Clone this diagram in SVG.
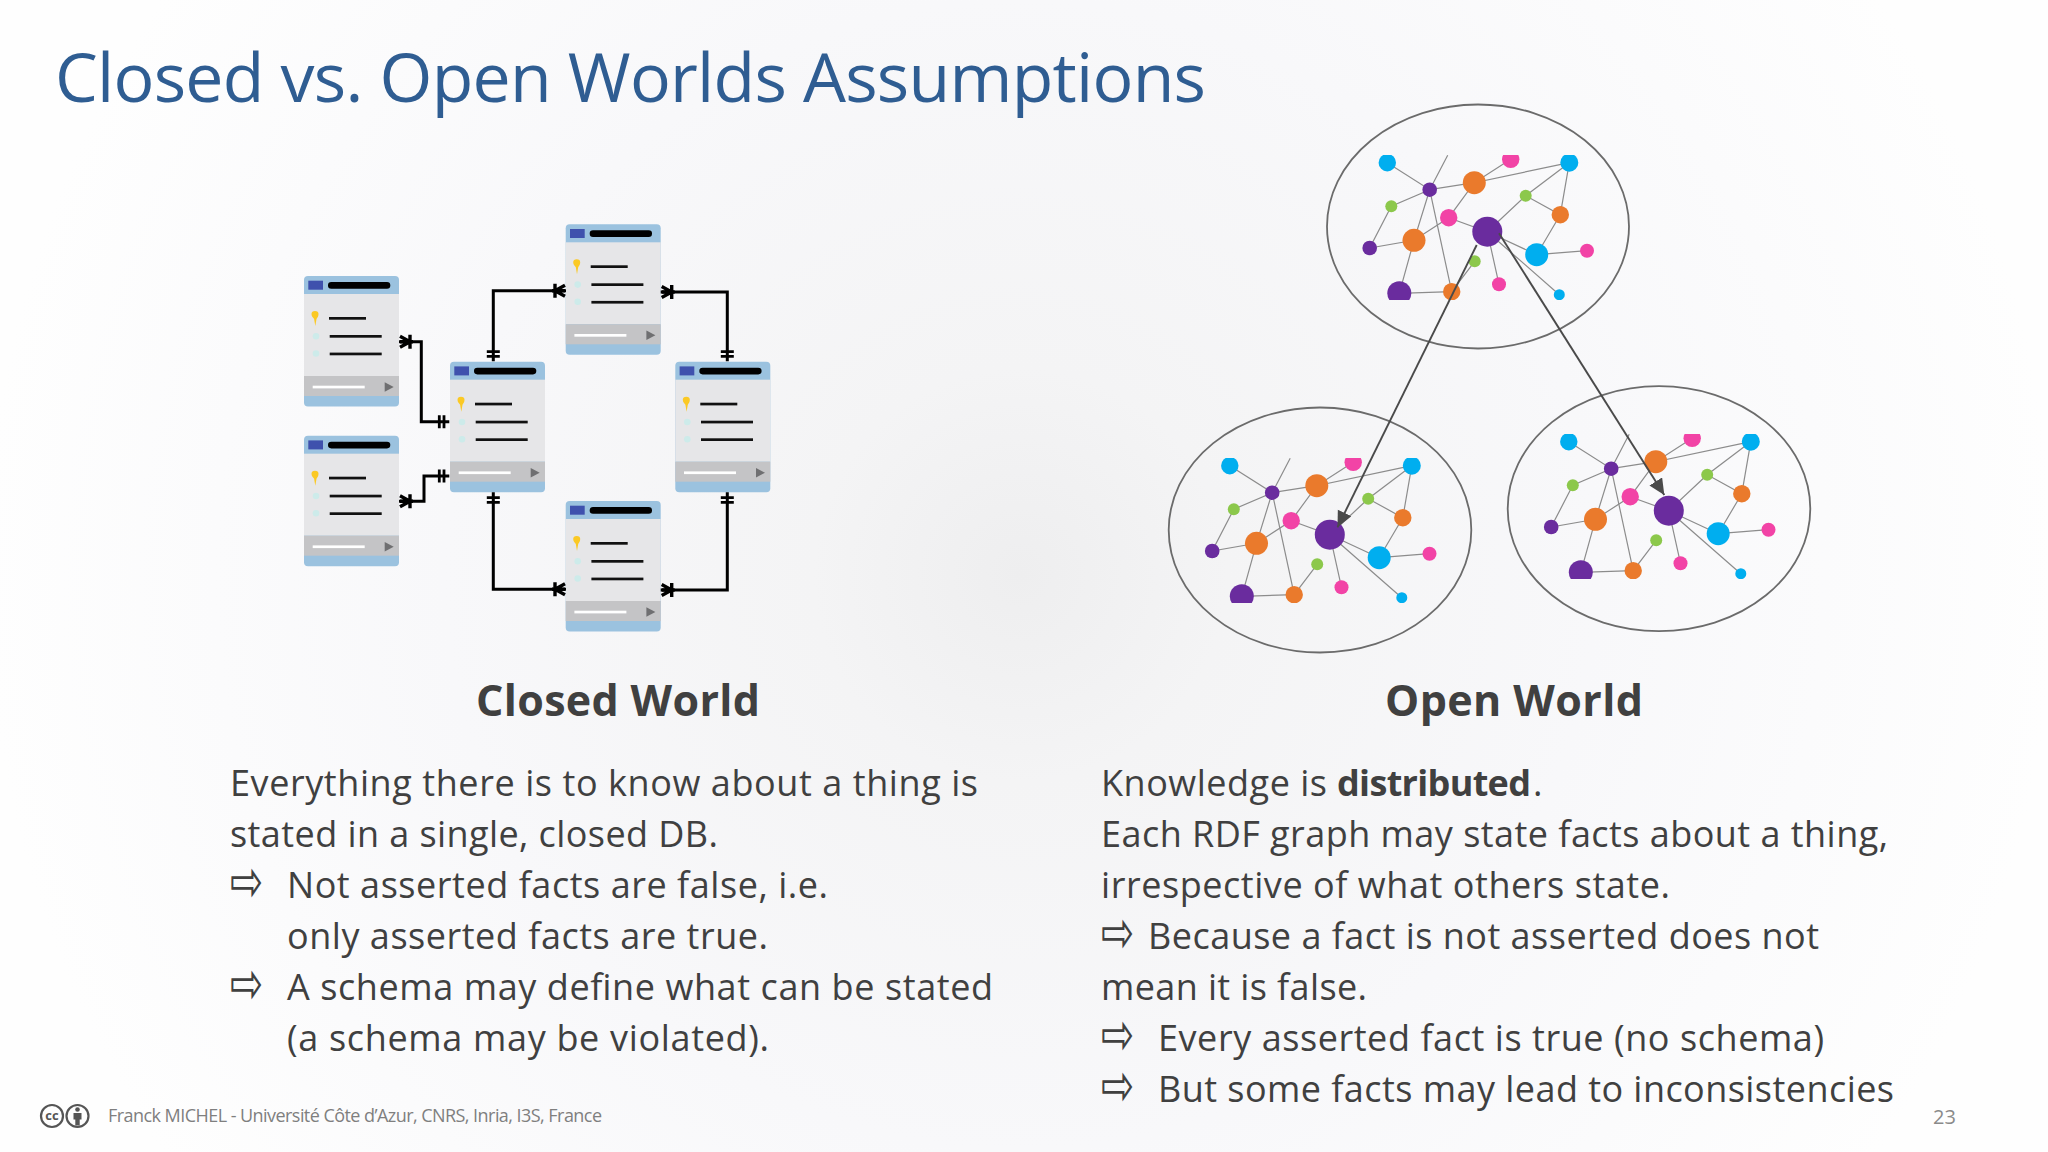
<svg xmlns="http://www.w3.org/2000/svg" width="2048" height="1152" viewBox="0 0 2048 1152">
<style>
text{font-family:"Open Sans","Noto Sans","Liberation Sans",sans-serif;fill:#404040}
.title{font-size:68px;fill:#2f5d92}
.head{font-size:43px;font-weight:700}
.body{font-size:36px}
.bullet{font-family:"DejaVu Sans",sans-serif;font-size:36px;fill:#404040}
.foot{font-size:18px;fill:#7f7f7f}
.page{font-size:20px;fill:#8a8a8a}
.link{fill:none;stroke:#000;stroke-width:3}
.edge{stroke:#8c8c8c;stroke-width:1.2;fill:none}
.bubble{fill:none;stroke:#6b6b6b;stroke-width:1.8}
.ref{stroke:#4a4a4a;stroke-width:1.9;fill:none;marker-end:url(#tip)}
.pu{fill:#6a2c9e}.or{fill:#ea7a2c}.pk{fill:#f243a6}.cy{fill:#00aeef}.gr{fill:#8cc84b}
</style>
<defs>
<radialGradient id="bg" gradientUnits="userSpaceOnUse" cx="1020" cy="575" r="1150">
<stop offset="0" stop-color="#eeeeef"/><stop offset="0.18" stop-color="#f4f4f5"/><stop offset="0.5" stop-color="#f8f8fa"/><stop offset="0.9" stop-color="#fefefe"/>
</radialGradient>
<marker id="tip" markerUnits="userSpaceOnUse" markerWidth="18" markerHeight="16" refX="16" refY="7.500" orient="auto"><path d="M0 0L16 7.500L0 15Z" fill="#4a4a4a"/></marker>
<clipPath id="gclip"><rect x="1300" y="155" width="340" height="145"/></clipPath>
<g id="table">
<rect width="95" height="130.500" rx="4" fill="#9bc2df"/>
<rect y="18" width="95" height="82" fill="#e6e6e8"/>
<rect y="100" width="95" height="20" fill="#c4c4c6"/>
<rect x="4.300" y="4.700" width="14.700" height="9" fill="#3f51ad"/>
<rect x="24" y="6" width="62.300" height="6.700" rx="3.300" fill="#000"/>
<path d="M7.500 38a3.500 3 0 0 1 7 0c0 2.500-1.300 3.500-2 5l-1.200 7-1.200-7c-.8-1.500-2.600-2.500-2.600-5z" fill="#fbc924"/>
<rect x="25" y="41" width="37" height="2.700" fill="#111"/>
<rect x="25.700" y="59" width="52" height="2.700" fill="#111"/>
<rect x="25.700" y="76.600" width="52" height="2.700" fill="#111"/>
<circle cx="12" cy="60.300" r="3.300" fill="#cdebea"/>
<circle cx="12" cy="77.500" r="3.300" fill="#cdebea"/>
<rect x="8.700" y="109.700" width="52" height="2.700" fill="#fff"/>
<path d="M80.700 106.300L89.700 111L80.700 115.700Z" fill="#6f6f71"/>
</g>
<path id="crow" d="M1 -5.500L11 0L1 5.500M1 0H14M11 -7V7" fill="none" stroke="#000" stroke-width="3.400"/>
<path id="bars" d="M5.300 -6.500V6.500M10 -6.500V6.500" fill="none" stroke="#000" stroke-width="2.800"/>
<g id="net">
<g class="edge">
<path d="M1387.300 162.700L1429.700 189.700L1474.300 182.700L1510.700 159.300M1429.700 189.700L1391.300 206.300L1369.700 248L1414 240.300L1448.700 217.700L1474.300 182.700L1569.300 162.700L1525.700 195.700L1560.300 214.700L1569.300 162.700"/>
<path d="M1429.700 189.700L1414 240.300L1399.300 293.300L1451.700 291.700L1474.700 261.300M1429.700 189.700L1451.700 291.700M1429.700 189.700L1447.700 155.300"/>
<path d="M1448.700 217.700L1487.300 231.700L1525.700 195.700M1560.300 214.700L1536.700 254.700L1487.300 231.700M1536.700 254.700L1587 250.700M1487.300 231.700L1499 284.300M1487.300 231.700L1559.300 294.700"/>
</g>
<g clip-path="url(#gclip)">
<circle class="cy" cx="1387.300" cy="162.700" r="8.700"/><circle class="pu" cx="1429.700" cy="189.700" r="7.300"/>
<circle class="gr" cx="1391.300" cy="206.300" r="6"/><circle class="pu" cx="1369.700" cy="248" r="7.300"/>
<circle class="or" cx="1414" cy="240.300" r="11.500"/><circle class="pk" cx="1448.700" cy="217.700" r="8.700"/>
<circle class="or" cx="1474.300" cy="182.700" r="11.500"/><circle class="pk" cx="1510.700" cy="159.300" r="8.700"/>
<circle class="cy" cx="1569.300" cy="162.700" r="9"/><circle class="gr" cx="1525.700" cy="195.700" r="6"/>
<circle class="or" cx="1560.300" cy="214.700" r="8.700"/><circle class="pu" cx="1487.300" cy="231.700" r="15"/>
<circle class="cy" cx="1536.700" cy="254.700" r="11.500"/><circle class="pk" cx="1587" cy="250.700" r="7"/>
<circle class="gr" cx="1474.700" cy="261.300" r="6"/><circle class="pk" cx="1499" cy="284.300" r="7"/>
<circle class="cy" cx="1559.300" cy="294.700" r="5.500"/><circle class="or" cx="1451.700" cy="291.700" r="8.700"/>
<circle class="pu" cx="1399.300" cy="293.300" r="12"/>
</g>
</g>
</defs>
<rect width="2048" height="1152" fill="url(#bg)"/>
<text class="title" x="55" y="102" textLength="1151">Closed vs. Open Worlds Assumptions</text>

<g id="table-1"><use href="#table" x="304" y="276"/></g>
<g id="table-2"><use href="#table" x="304" y="435.700"/></g>
<g id="table-3"><use href="#table" x="450" y="361.700"/></g>
<g id="table-4"><use href="#table" x="565.700" y="224.300"/></g>
<g id="table-5"><use href="#table" x="675.300" y="361.700"/></g>
<g id="table-6"><use href="#table" x="565.700" y="501"/></g>

<g id="graph-top"><use href="#net"/><ellipse class="bubble" cx="1478" cy="226.500" rx="151" ry="122"/></g>
<g id="graph-left"><use href="#net" x="-157.500" y="303"/><ellipse class="bubble" cx="1320" cy="530" rx="151.300" ry="122.500"/></g>
<g id="graph-right"><use href="#net" x="181.500" y="279"/><ellipse class="bubble" cx="1659" cy="508.700" rx="151.300" ry="122.500"/></g>

<g id="connectors">
<path class="link" d="M399 341.700H421.300V421.700H449.300"/>
<path class="link" d="M399 501.300H424V476H449.300"/>
<path class="link" d="M493.300 361.300V290.700H566"/>
<path class="link" d="M660.700 292H727.300V361.300"/>
<path class="link" d="M493.300 492.300V589.300H566"/>
<path class="link" d="M660.700 590H727.300V492.300"/>
<use href="#crow" transform="translate(399 341.700)"/>
<use href="#crow" transform="translate(399 501.300)"/>
<use href="#crow" transform="translate(566 290.700) scale(-1 1)"/>
<use href="#crow" transform="translate(660.700 292)"/>
<use href="#crow" transform="translate(566 589.300) scale(-1 1)"/>
<use href="#crow" transform="translate(660.700 590)"/>
<use href="#bars" transform="translate(449.300 421.700) scale(-1 1)"/>
<use href="#bars" transform="translate(449.300 476) scale(-1 1)"/>
<use href="#bars" transform="translate(493.300 361.700) rotate(-90)"/>
<use href="#bars" transform="translate(727.300 361.700) rotate(-90)"/>
<use href="#bars" transform="translate(493.300 492.300) rotate(90)"/>
<use href="#bars" transform="translate(727.300 492.300) rotate(90)"/>
<path class="ref" d="M1476.700 245L1337.500 527.300"/>
<path class="ref" d="M1499 233.300L1664.300 495"/>
</g>

<text class="head" x="476" y="716" textLength="284">Closed World</text>
<text class="head" x="1385" y="716" textLength="258">Open World</text>

<text class="body" x="230" y="796" textLength="748">Everything there is to know about a thing is</text>
<text class="body" x="230" y="847" textLength="488">stated in a single, closed DB.</text>
<text class="bullet" transform="translate(230 901) scale(1.1 1.6)">⇨</text>
<text class="body" x="287" y="898" textLength="541">Not asserted facts are false, i.e.</text>
<text class="body" x="287" y="949" textLength="481">only asserted facts are true.</text>
<text class="bullet" transform="translate(230 1003) scale(1.1 1.6)">⇨</text>
<text class="body" x="287" y="1000" textLength="706">A schema may define what can be stated</text>
<text class="body" x="287" y="1051" textLength="482">(a schema may be violated).</text>

<text class="body" x="1101" y="796" textLength="226">Knowledge is</text>
<text class="body" x="1337" y="796" textLength="194" font-weight="700">distributed</text>
<text class="body" x="1533" y="796">.</text>
<text class="body" x="1101" y="847" textLength="787">Each RDF graph may state facts about a thing,</text>
<text class="body" x="1101" y="898" textLength="569">irrespective of what others state.</text>
<text class="bullet" transform="translate(1101 952) scale(1.1 1.6)">⇨</text>
<text class="body" x="1148" y="949" textLength="671">Because a fact is not asserted does not</text>
<text class="body" x="1101" y="1000" textLength="266">mean it is false.</text>
<text class="bullet" transform="translate(1101 1054) scale(1.1 1.6)">⇨</text>
<text class="body" x="1158" y="1051" textLength="666">Every asserted fact is true (no schema)</text>
<text class="bullet" transform="translate(1101 1105) scale(1.1 1.6)">⇨</text>
<text class="body" x="1158" y="1102" textLength="736">But some facts may lead to inconsistencies</text>

<g id="license">
<circle cx="52" cy="1116" r="11" fill="none" stroke="#555" stroke-width="2.200"/>
<circle cx="77.500" cy="1116" r="11" fill="none" stroke="#555" stroke-width="2.200"/>
<text x="52" y="1120" text-anchor="middle" font-size="13" font-weight="700" style="fill:#555">cc</text>
<circle cx="77.500" cy="1109.500" r="2.300" fill="#555"/>
<path d="M73.500 1113h8v6.500h-1.800v6h-4.400v-6h-1.800z" fill="#555"/>
</g>
<text class="foot" x="108" y="1122" textLength="494">Franck MICHEL - Université Côte d’Azur, CNRS, Inria, I3S, France</text>
<text class="page" x="1933" y="1124" textLength="23">23</text>
</svg>
